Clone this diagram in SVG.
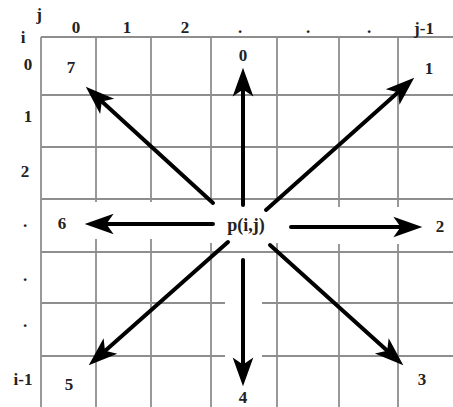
<svg xmlns="http://www.w3.org/2000/svg" width="453" height="407" viewBox="0 0 453 407">
<style>
.g{stroke:#8e8e8e;stroke-width:1.8;fill:none}
.a{stroke:#000;stroke-width:4;fill:none;stroke-linecap:round;marker-end:url(#ah)}
text{font-family:"Liberation Serif","Times New Roman",serif;font-weight:bold;font-size:17px;fill:#222;text-anchor:middle}
</style>
<defs>
<marker id="ah" markerUnits="userSpaceOnUse" markerWidth="30" markerHeight="24" viewBox="0 -11 29 22" refX="18" refY="0" orient="auto">
<path d="M0,-10 L28,0 L0,10 L7,0 Z" fill="#000"/>
</marker>
</defs>
<rect width="453" height="407" fill="#fff"/>
<g id="grid">
<line class="g" x1="41" y1="37" x2="453" y2="37"/>
<line class="g" x1="41" y1="95" x2="453" y2="95"/>
<line class="g" x1="41" y1="147" x2="453" y2="147"/>
<line class="g" x1="41" y1="199" x2="453" y2="199"/>
<line class="g" x1="41" y1="252" x2="453" y2="252"/>
<line class="g" x1="41" y1="303" x2="225" y2="303"/>
<line class="g" x1="262" y1="303" x2="453" y2="303"/>
<line class="g" x1="41" y1="356" x2="225" y2="356"/>
<line class="g" x1="262" y1="356" x2="453" y2="356"/>
<line class="g" x1="41" y1="37" x2="41" y2="407"/>
<line class="g" x1="96" y1="37" x2="96" y2="202"/>
<line class="g" x1="96" y1="239" x2="96" y2="407"/>
<line class="g" x1="151" y1="37" x2="151" y2="202"/>
<line class="g" x1="151" y1="239" x2="151" y2="407"/>
<line class="g" x1="211" y1="37" x2="211" y2="202"/>
<line class="g" x1="211" y1="243" x2="211" y2="407"/>
<line class="g" x1="277" y1="37" x2="277" y2="202"/>
<line class="g" x1="277" y1="243" x2="277" y2="407"/>
<line class="g" x1="339" y1="37" x2="339" y2="207"/>
<line class="g" x1="339" y1="244" x2="339" y2="407"/>
<line class="g" x1="398" y1="37" x2="398" y2="207"/>
<line class="g" x1="398" y1="244" x2="398" y2="407"/>
</g>
<g id="labels">
<text x="39" y="20">j</text>
<text x="23" y="43">i</text>
<text x="76" y="33">0</text>
<text x="127" y="33">1</text>
<text x="185" y="33">2</text>
<text x="240" y="33">.</text>
<text x="308" y="33">.</text>
<text x="369" y="33">.</text>
<text x="424" y="34">j-1</text>
<text x="28" y="70">0</text>
<text x="28" y="122">1</text>
<text x="25" y="177">2</text>
<text x="25" y="227">.</text>
<text x="25" y="281">.</text>
<text x="25" y="327">.</text>
<text x="23" y="385">i-1</text>
</g>
<g id="connectors">
<line class="a" x1="243" y1="205" x2="243" y2="78"/>
<line class="a" x1="266" y1="210" x2="406.5" y2="84.7"/>
<line class="a" x1="291" y1="227" x2="412" y2="227"/>
<line class="a" x1="270" y1="245" x2="395.6" y2="358.3"/>
<line class="a" x1="243" y1="260" x2="243" y2="376"/>
<line class="a" x1="228" y1="242" x2="96.5" y2="358.4"/>
<line class="a" x1="213" y1="224" x2="95" y2="224"/>
<line class="a" x1="213" y1="203" x2="93.4" y2="93.7"/>
</g>
<g id="center"><text x="246" y="231" style="font-size:18px">p(i,j)</text></g>
<g id="n0"><text x="243" y="61">0</text></g>
<g id="n1"><text x="429" y="74">1</text></g>
<g id="n2"><text x="440" y="232">2</text></g>
<g id="n3"><text x="422" y="385">3</text></g>
<g id="n4"><text x="243" y="403">4</text></g>
<g id="n5"><text x="69" y="390">5</text></g>
<g id="n6"><text x="62" y="229">6</text></g>
<g id="n7"><text x="71" y="73">7</text></g>
</svg>
